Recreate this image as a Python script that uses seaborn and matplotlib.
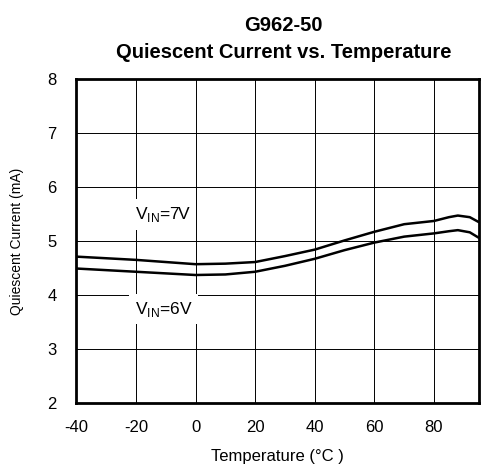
import pandas as pd
import seaborn as sns
from matplotlib import pyplot as plt

temperature = [-40, -30, -20, -10, 0, 10, 20, 30, 40, 50, 60, 70, 80, 85, 88, 92, 95]
current_7v = [4.71, 4.68, 4.65, 4.61, 4.57, 4.58, 4.61, 4.72, 4.84, 5.01, 5.17, 5.31, 5.37, 5.44, 5.47, 5.44, 5.35]
current_6v = [4.49, 4.46, 4.43, 4.40, 4.37, 4.38, 4.43, 4.54, 4.67, 4.83, 4.97, 5.08, 5.14, 5.18, 5.20, 5.16, 5.06]
vin_labels = ['7V', '6V']

df = pd.concat([
    pd.DataFrame({'temp': temperature, 'iq': current_7v, 'vin': vin_labels[0]}),
    pd.DataFrame({'temp': temperature, 'iq': current_6v, 'vin': vin_labels[1]}),
])

sns.set_style('white')
plt.rcParams['font.family'] = ['Liberation Sans', 'DejaVu Sans']
plt.rcParams['axes.unicode_minus'] = False
plt.rcParams['text.color'] = 'black'
plt.rcParams['axes.labelcolor'] = 'black'
plt.rcParams['xtick.color'] = 'black'
plt.rcParams['ytick.color'] = 'black'

fig, ax = plt.subplots(figsize=(4.86, 4.72), dpi=100)
fig.subplots_adjust(left=0.157, right=0.985, top=0.833, bottom=0.146)

sns.lineplot(x='temp', y='iq', hue='vin', data=df, palette=['black', 'black'],
             linewidth=1.8, legend=False, ax=ax)

ax.set_xlim(-40, 95)
ax.set_ylim(2, 8)
ax.set_xticks(range(-40, 81, 20))
ax.set_yticks(range(2, 9))
ax.grid(True, color='black', linewidth=0.7)
for s in ax.spines.values():
    s.set_linewidth(2)
    s.set_color('black')
ax.tick_params(length=0, labelsize=12, pad=12, colors='black')
ax.tick_params(axis='y', pad=14)

ax.set_xlabel('Temperature (°C )', fontsize=12, labelpad=10)
ax.set_ylabel('Quiescent Current (mA)', fontsize=10, labelpad=17)
ax.set_title('G962-50\nQuiescent Current vs. Temperature', fontsize=14.5, fontweight='bold',
             pad=15, linespacing=1.5, x=0.515, color='black')

box = dict(facecolor='white', edgecolor='none', pad=4)
ax.text(-20.3, 5.49, r'V$_{\mathregular{IN}}$=7V', fontsize=12.5, va='center', ha='left', bbox=box)
ax.text(-20.3, 3.74, r'V$_{\mathregular{IN}}$=6V', fontsize=12.5, va='center', ha='left', bbox=box)

plt.savefig('out.png', dpi=100)
